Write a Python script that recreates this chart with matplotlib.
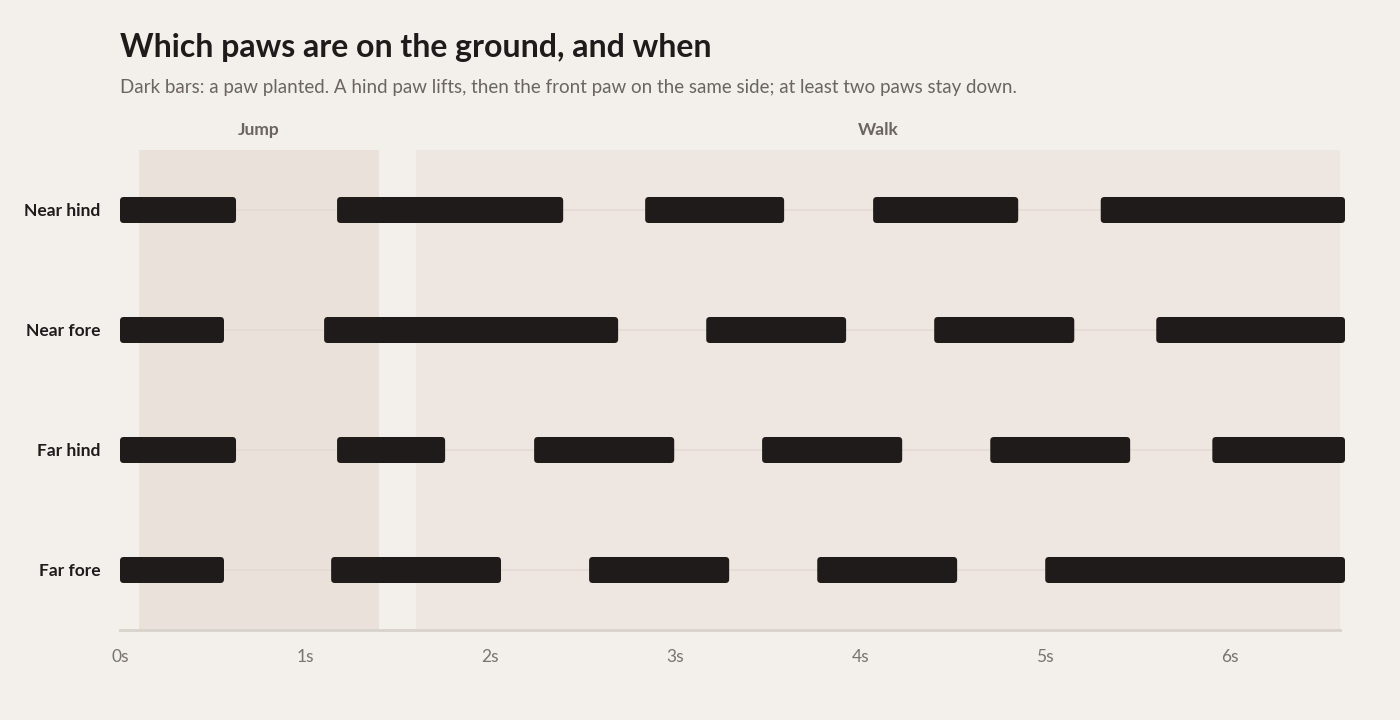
import matplotlib
matplotlib.use("Agg")
import matplotlib.pyplot as plt
from matplotlib.patches import FancyBboxPatch, Rectangle

plt.rcParams['font.family'] = ['Lato', 'DejaVu Sans']

paws = ["Near hind", "Near fore", "Far hind", "Far fore"]
stances = {
    "Near hind": [(0.0, 0.627), (1.173, 2.395), (2.838, 3.589), (4.07, 4.854), (5.30, 6.62)],
    "Near fore": [(0.0, 0.562), (1.103, 2.692), (3.168, 3.924), (4.40, 5.157), (5.60, 6.62)],
    "Far hind": [(0.0, 0.627), (1.173, 1.757), (2.238, 2.995), (3.47, 4.227), (4.703, 5.459), (5.903, 6.62)],
    "Far fore": [(0.0, 0.562), (1.141, 2.059), (2.535, 3.292), (3.768, 4.524), (5.0, 6.62)],
}
phases = [("Jump", 0.103, 1.40, "#e9e1da"), ("Walk", 1.60, 6.595, "#eee6e0")]
ticks = [0, 1, 2, 3, 4, 5, 6]

bg = "#f3efeb"
fig = plt.figure(figsize=(14, 7.2), dpi=100, facecolor=bg)
ax = fig.add_axes([120/1400, 1-630/720, 1225/1400, 480/720])
ax.set_facecolor(bg)
ax.set_xlim(0, 6.62)
ax.set_ylim(3.5, -0.5)

for name, a, b, c in phases:
    ax.add_patch(Rectangle((a, -0.5), b-a, 4, facecolor=c, edgecolor='none', zorder=0))
    ax.text((a+b)/2, -0.6, name, ha='center', va='bottom', fontsize=12.5,
            fontweight='bold', color='#6b6460')

bh = 26/120
for i, p in enumerate(paws):
    ax.plot([0, 6.595], [i, i], color='#e2dad3', lw=1.2, zorder=1)
    for a, b in stances[p]:
        ax.add_patch(FancyBboxPatch((a, i-bh/2), b-a, bh,
                                    boxstyle="round,pad=0,rounding_size=0.02",
                                    mutation_aspect=1.54, facecolor='#1f1b1a',
                                    edgecolor='none', zorder=2))

ax.set_yticks(range(4))
ax.set_yticklabels(paws, fontsize=12.5, fontweight='bold', color='#1f1b1a')
ax.set_xticks(ticks)
ax.set_xticklabels([f"{t}s" for t in ticks], fontsize=12.5, color='#7a736e')
ax.tick_params(length=0, pad=14)
ax.tick_params(axis='y', pad=14)
for s in ax.spines.values():
    s.set_visible(False)
ax.plot([0, 6.595], [3.5, 3.5], color='#d9d2cc', lw=2, clip_on=False, zorder=3)

fig.text(120/1400, 1-47/720, "Which paws are on the ground, and when", fontsize=23,
         fontweight='bold', color='#1f1b1a', va='center')
fig.text(120/1400, 1-88/720, "Dark bars: a paw planted. A hind paw lifts, then the front paw on the same side; at least two paws stay down.",
         fontsize=13.5, color='#6b6460', va='center')

fig.savefig("out.png", dpi=100, facecolor=bg)
